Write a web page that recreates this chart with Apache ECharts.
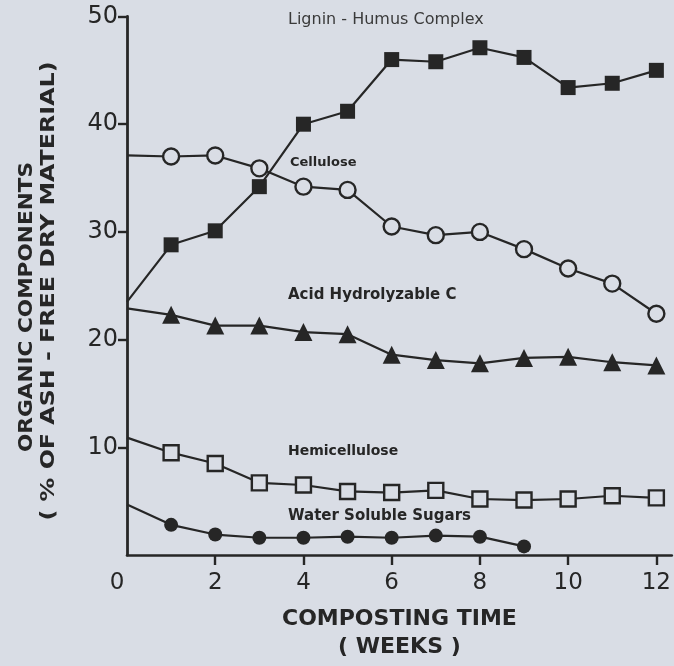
<!DOCTYPE html>
<html>
<head>
<meta charset="utf-8">
<script src="https://cdn.jsdelivr.net/npm/echarts@6/dist/echarts.min.js"></script>
<style>
html,body{margin:0;padding:0;background:#d9dde5;}
#chart{width:674px;height:666px;}
</style>
</head>
<body>
<div id="chart"></div>
<script>
// ---- data ----
var weeks = [0,1,2,3,4,5,6,7,8,9,10,11,12];
var lignin = [23.5,28.8,30.1,34.2,40.0,41.2,46.0,45.8,47.1,46.2,43.4,43.8,45.0];
var cellulose = [37.1,37.0,37.1,35.9,34.2,33.9,30.5,29.7,30.0,28.4,26.6,25.2,22.4];
var acidHydrolyzable = [22.9,22.3,21.3,21.3,20.7,20.5,18.6,18.1,17.8,18.3,18.4,17.9,17.6];
var hemicellulose = [10.9,9.5,8.5,6.7,6.5,5.9,5.8,6.0,5.2,5.1,5.2,5.5,5.3];
var sugars = [4.7,2.8,1.9,1.6,1.6,1.7,1.6,1.8,1.7,0.8];
var xTickLabels = [0,2,4,6,8,10,12];
var yTickLabels = [10,20,30,40,50];
var seriesNames = ['Lignin - Humus Complex','Cellulose','Acid Hydrolyzable C','Hemicellulose','Water Soluble Sugars'];
var yNameLines = ['ORGANIC COMPONENTS','( % OF ASH - FREE DRY MATERIAL)'];
var xName = 'COMPOSTING TIME\n( WEEKS )';

var ink = '#262626';
var bg = '#d9dde5';
var font = 'DejaVu Sans';

var ctx = document.createElement('canvas').getContext('2d');
function textWidth(t, f){ ctx.font = f; return ctx.measureText(t).width; }

function pts(vals){
  return vals.map(function(v,i){
    var d = {value:[weeks[i], v]};
    if (i === 0) d.symbol = 'none';
    return d;
  });
}

function mkSeries(name, vals, symbol, size, filled){
  return {
    name: name,
    type: 'line',
    data: pts(vals),
    symbol: symbol,
    symbolSize: size,
    showAllSymbol: true,
    clip: false,
    lineStyle: {color: ink, width: 2.2},
    itemStyle: {color: filled ? ink : bg, borderColor: ink, borderWidth: filled ? 0 : 2.4},
    emphasis: {disabled: true},
    animation: false
  };
}

// stretched rotated axis-name lines
var yNameFont = 'bold 19px "DejaVu Sans"';
var yNameSpecs = [
  {text: yNameLines[0], x: 27, y: 307, len: 290},
  {text: yNameLines[1], x: 49, y: 291, len: 459}
];
var graphics = yNameSpecs.map(function(s){
  return {type:'text', rotation: Math.PI/2, x: s.x, y: s.y,
    scaleX: s.len / textWidth(s.text, yNameFont), scaleY: 1,
    style:{text: s.text, fill: ink, font: yNameFont, textAlign:'center', textVerticalAlign:'middle'}};
});
var labelSpecs = [
  {i:0, x:288, y:20, f:'16px "DejaVu Sans"', c:'#3a3a3a'},
  {i:1, x:290, y:163, f:'bold 13px "DejaVu Sans"', c:ink},
  {i:2, x:288, y:295, f:'bold 15px "DejaVu Sans"', c:ink},
  {i:3, x:288, y:451, f:'bold 14px "DejaVu Sans"', c:ink},
  {i:4, x:288, y:516, f:'bold 15px "DejaVu Sans"', c:ink}
];
labelSpecs.forEach(function(s){
  graphics.push({type:'text', x: s.x, y: s.y,
    style:{text: seriesNames[s.i], fill: s.c, font: s.f, textVerticalAlign:'middle'}});
});

var chart = echarts.init(document.getElementById('chart'), null, {renderer:'canvas'});
chart.setOption({
  backgroundColor: bg,
  animation: false,
  grid: {left: 127, top: 16.5, width: 546, height: 538.5},
  xAxis: {
    type: 'value', min: 0, max: 12.35,
    axisLine: {show: true, onZero: false, lineStyle: {color: ink, width: 2.6}},
    axisTick: {show: true, customValues: [2,4,6,8,10,12], length: 10, lineStyle: {color: ink, width: 2.4}},
    axisLabel: {customValues: xTickLabels, color: ink, fontSize: 23, fontFamily: font, margin: 17,
      formatter: function(v){ return v === 0 ? '{z|0}' : String(v); },
      rich: {z: {fontSize: 23, fontFamily: font, color: ink, padding: [0, 20, 0, 0]}}},
    splitLine: {show: false},
    name: xName,
    nameLocation: 'middle',
    nameGap: 50,
    nameTextStyle: {color: ink, fontSize: 22, fontFamily: 'DejaVu Sans', fontWeight: 'bold', lineHeight: 28}
  },
  yAxis: {
    type: 'value', min: 0, max: 50,
    axisLine: {show: true, onZero: false, lineStyle: {color: ink, width: 2.8}},
    axisTick: {show: true, customValues: yTickLabels, length: 9, lineStyle: {color: ink, width: 2.4}},
    axisLabel: {customValues: yTickLabels, color: ink, fontSize: 24, fontFamily: font, margin: 9},
    splitLine: {show: false}
  },
  graphic: graphics,
  series: [
    mkSeries(seriesNames[0], lignin, 'rect', 15, true),
    mkSeries(seriesNames[1], cellulose, 'circle', 16, false),
    mkSeries(seriesNames[2], acidHydrolyzable, 'triangle', 18, true),
    mkSeries(seriesNames[3], hemicellulose, 'rect', 15, false),
    mkSeries(seriesNames[4], sugars, 'circle', 14, true)
  ]
});
</script>
</body>
</html>
